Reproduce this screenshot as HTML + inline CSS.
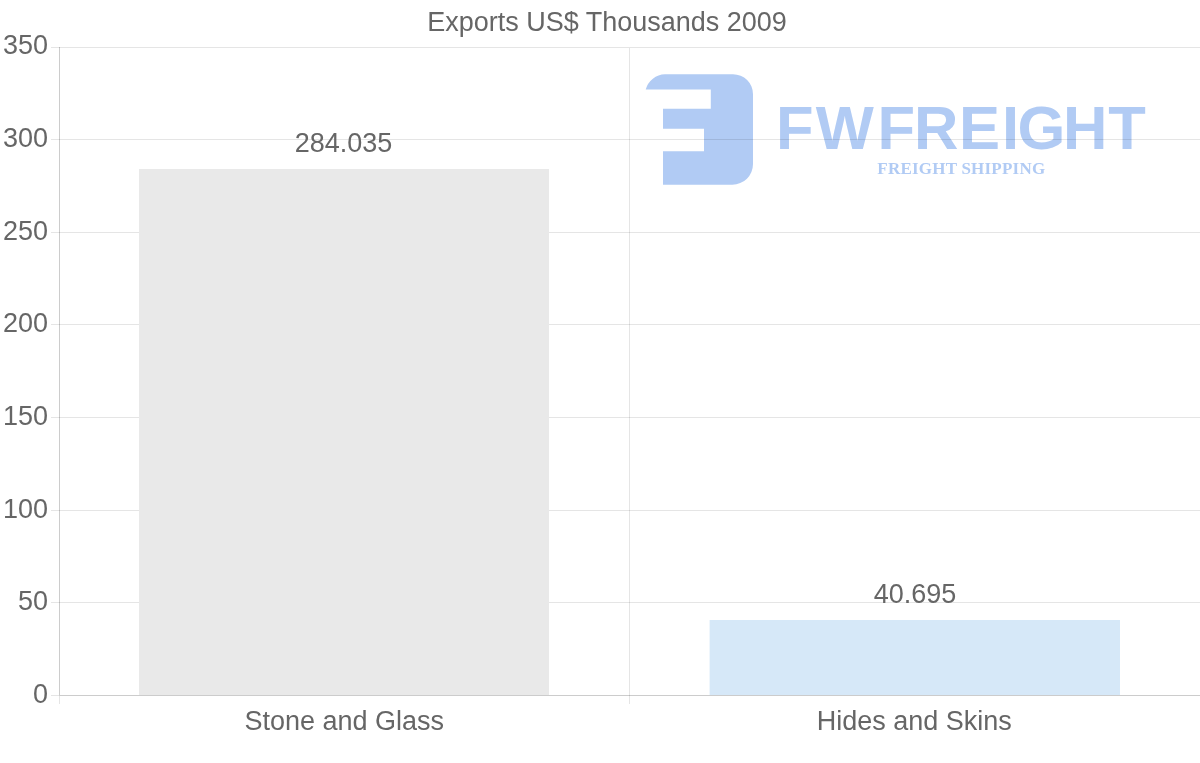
<!DOCTYPE html>
<html>
<head>
<meta charset="utf-8">
<title>Exports US$ Thousands 2009</title>
<style>
html,body{margin:0;padding:0;background:#fff;}
body{width:1200px;height:763px;overflow:hidden;position:relative;}
svg{position:absolute;left:0;top:0;display:block;}
text{font-family:"Liberation Sans",sans-serif;}
.t{font-size:27px;fill:#666;}
</style>
</head>
<body>
<svg width="1200" height="763" viewBox="0 0 1200 763">
  <rect x="0" y="0" width="1200" height="763" fill="#ffffff"/>
  <!-- logo watermark (drawn under the grid) -->
  <g fill="#b1cbf4">
    <path d="M645.7 89.4 A20.8 20.8 0 0 1 665 74.2 L733 74.2 A20 20 0 0 1 753 94.2 L753 164 A20.7 20.7 0 0 1 732.3 184.7 L663 184.7 L663 151.2 L704 151.2 L704 128.8 L663 128.8 L663 108.8 L710.8 108.8 L710.8 89.4 Z"/>
    <text y="149" x="776.0 815.7 877.6 914.1 959.1 1002.0 1017.5 1063.0 1108.2" font-size="61.5" font-weight="bold">FWFREIGHT</text>
    <text x="877.3" y="174" font-size="17" font-weight="bold" letter-spacing="0.22" style="font-family:'Liberation Serif',serif">FREIGHT SHIPPING</text>
  </g>
  <!-- gridlines -->
  <g stroke="#000" stroke-opacity="0.1" stroke-width="1" shape-rendering="crispEdges">
    <line x1="51" x2="1200" y1="47.5" y2="47.5"/>
    <line x1="51" x2="1200" y1="139.5" y2="139.5"/>
    <line x1="51" x2="1200" y1="232.5" y2="232.5"/>
    <line x1="51" x2="1200" y1="324.5" y2="324.5"/>
    <line x1="51" x2="1200" y1="417.5" y2="417.5"/>
    <line x1="51" x2="1200" y1="510.5" y2="510.5"/>
    <line x1="51" x2="1200" y1="602.5" y2="602.5"/>
    <line x1="51" x2="59" y1="695.5" y2="695.5"/>
    <line x1="629.5" x2="629.5" y1="48" y2="704"/>
    <line x1="59.5" x2="59.5" y1="696" y2="704"/>
  </g>
  <g stroke="#000" stroke-opacity="0.2" stroke-width="1" shape-rendering="crispEdges">
    <line x1="59.5" x2="59.5" y1="47" y2="696"/>
    <line x1="60" x2="1200" y1="695.5" y2="695.5"/>
  </g>
  <!-- bars -->
  <rect x="139" y="169" width="410" height="526" fill="#e9e9e9"/>
  <rect x="709.6" y="620" width="410.4" height="75" fill="#d6e8f8"/>
  <!-- text -->
  <text class="t" x="607" y="31" text-anchor="middle">Exports US$ Thousands 2009</text>
  <g class="t" text-anchor="end">
    <text x="48" y="54">350</text>
    <text x="48" y="147">300</text>
    <text x="48" y="240">250</text>
    <text x="48" y="332">200</text>
    <text x="48" y="425">150</text>
    <text x="48" y="518">100</text>
    <text x="48" y="610">50</text>
    <text x="48" y="702.5">0</text>
  </g>
  <g class="t" text-anchor="middle">
    <text x="343.6" y="152">284.035</text>
    <text x="915" y="603">40.695</text>
    <text x="344.3" y="730">Stone and Glass</text>
    <text x="914.3" y="730">Hides and Skins</text>
  </g>
</svg>
</body>
</html>
